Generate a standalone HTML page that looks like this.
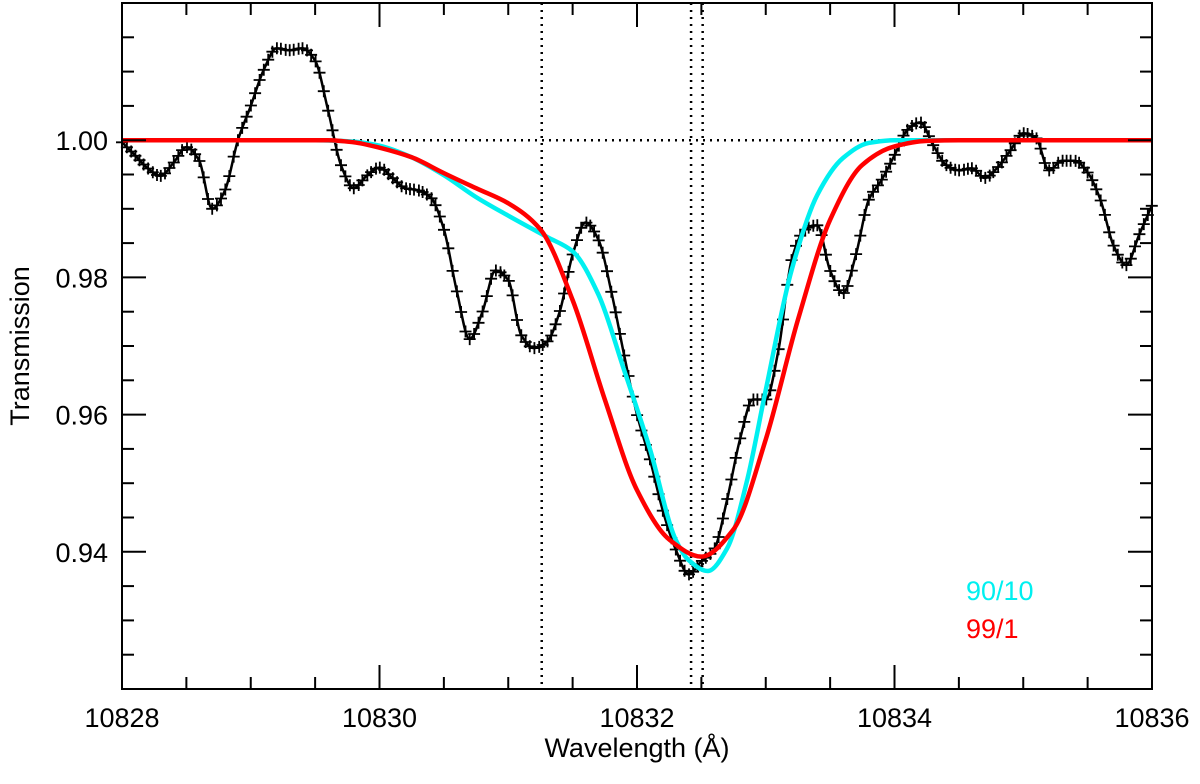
<!DOCTYPE html>
<html><head><meta charset="utf-8"><style>
html,body{margin:0;padding:0;background:#fff;}
svg text{font-family:"Liberation Sans",sans-serif;}
</style></head><body>
<svg id="chart" width="1200" height="779" xmlns="http://www.w3.org/2000/svg">
<g id="plot"></g>
</svg>
<script>
const xTicks = [10828, 10830, 10832, 10834, 10836];
const yTicks = [0.94, 0.96, 0.98, 1.00];
const yTickLabels = ["0.94", "0.96", "0.98", "1.00"];
const vLines = [10831.26, 10832.42, 10832.51];
const obsStart = 10828.0;
const obsStep = 0.1;
const obsValues = [0.9997,0.9978,0.9959,0.9948,0.9967,0.999,0.997,0.990,0.9927,1.000,
1.005,1.0102,1.0134,1.0131,1.0134,1.0116,1.0044,0.9964,0.993,0.9948,
0.996,0.9945,0.993,0.9927,0.9916,0.987,0.978,0.971,0.975,0.981,
0.9796,0.9716,0.9697,0.9706,0.975,0.9833,0.988,0.9855,0.978,0.9687,
0.960,0.9535,0.946,0.9404,0.9367,0.9386,0.9404,0.9476,0.9564,0.9622,
0.9622,0.9695,0.9825,0.9869,0.9876,0.981,0.9777,0.9833,0.9913,0.9942,
0.9978,1.0015,1.0026,0.9993,0.9964,0.9956,0.9959,0.9945,0.996,0.9985,
1.001,1.0003,0.9956,0.997,0.997,0.9953,0.9913,0.9847,0.9818,0.9862,0.9905];
const cyanX = [10828,10829.5,10829.8,10830.0,10830.25,10830.5,10830.75,10831.0,10831.3,10831.5,10831.7,10831.9,10832.1,10832.3,10832.4,10832.55,10832.7,10832.85,10833.0,10833.2,10833.4,10833.6,10833.8,10834.0,10836];
const cyanY = [1,1,0.9998,0.9992,0.9975,0.9949,0.9917,0.989,0.9859,0.9838,0.9775,0.9665,0.955,0.9418,0.9388,0.9372,0.9405,0.950,0.9636,0.981,0.992,0.9974,0.9996,1,1];
const redX = [10828,10829.6,10829.8,10830.0,10830.25,10830.5,10830.75,10831.0,10831.25,10831.5,10831.75,10832.0,10832.25,10832.5,10832.75,10833.0,10833.25,10833.5,10833.75,10834.0,10834.25,10834.5,10836];
const redY = [1,1,0.9997,0.9989,0.9975,0.9952,0.993,0.9908,0.987,0.9767,0.9622,0.949,0.9418,0.9393,0.9433,0.9564,0.9738,0.9884,0.9964,0.9991,0.9999,1,1];

const L=122,R=1152,T=3,B=689,X0=10828,X1=10836,Y0=0.92,Y1=1.02;
const sx=v=>L+(v-X0)/(X1-X0)*(R-L);
const sy=v=>B-(v-Y0)/(Y1-Y0)*(B-T);
const NS="http://www.w3.org/2000/svg";
const g=document.getElementById('plot');
function mk(tag,attrs,parent){const e=document.createElementNS(NS,tag);for(const k in attrs)e.setAttribute(k,attrs[k]);(parent||g).appendChild(e);return e;}
function smooth(pts){const n=pts.length;const dx=[],m=[],t=new Array(n);
for(let i=0;i<n-1;i++){dx.push(pts[i+1][0]-pts[i][0]);m.push((pts[i+1][1]-pts[i][1])/dx[i]);}
t[0]=m[0];t[n-1]=m[n-2];
for(let i=1;i<n-1;i++){if(m[i-1]*m[i]<=0)t[i]=0;else{const w1=2*dx[i]+dx[i-1],w2=dx[i]+2*dx[i-1];t[i]=(w1+w2)/(w1/m[i-1]+w2/m[i]);}}
let d="M"+pts[0][0].toFixed(1)+","+pts[0][1].toFixed(1);
for(let i=0;i<n-1;i++){const h=dx[i]/3;d+=" C"+(pts[i][0]+h).toFixed(1)+","+(pts[i][1]+t[i]*h).toFixed(1)+" "+(pts[i+1][0]-h).toFixed(1)+","+(pts[i+1][1]-t[i+1]*h).toFixed(1)+" "+pts[i+1][0].toFixed(1)+","+pts[i+1][1].toFixed(1);}
return d;}

let e=mk('line',{x1:L,x2:R,y1:sy(1),y2:sy(1),stroke:'#000','stroke-width':2.5,'stroke-dasharray':'2,5'});


vLines.forEach(v=>{const l=mk('line',{x1:sx(v),x2:sx(v),y1:T,y2:B,stroke:'#000','stroke-width':2.5,'stroke-dasharray':'2,5'});

});

const obsPts=obsValues.map((v,i)=>[sx(obsStart+i*obsStep),sy(v)]);
const obsPath=mk('path',{d:smooth(obsPts),fill:'none',stroke:'#000','stroke-width':2.5});


const totalLen=obsPath.getTotalLength();const samples=[];for(let s=0;s<=totalLen;s+=1)samples.push(obsPath.getPointAtLength(s));
let mpath="";let si=0;
for(let x=L;x<=R+0.1;x+=(R-L)/240){while(si<samples.length-1&&samples[si].x<x)si++;const p=samples[si];mpath+=`M${(p.x-6).toFixed(1)},${p.y.toFixed(1)}h12M${p.x.toFixed(1)},${(p.y-6).toFixed(1)}v12`;}
e=mk('path',{d:mpath,stroke:'#000','stroke-width':1.8,fill:'none'});



e=mk('path',{d:smooth(cyanX.map((x,i)=>[sx(x),sy(cyanY[i])])),fill:'none',stroke:'#00f0f0','stroke-width':4.5});


e=mk('path',{d:smooth(redX.map((x,i)=>[sx(x),sy(redY[i])])),fill:'none',stroke:'#f00','stroke-width':4.5});



e=mk('rect',{x:L,y:T,width:R-L,height:B-T,fill:'none',stroke:'#000','stroke-width':2});


for(let v=X0;v<=X1+1e-9;v+=0.5){const major=Math.abs(v-Math.round(v/2)*2)<1e-6;const len=major?24:12;const x=sx(v);
const t1=mk('line',{x1:x,x2:x,y1:B,y2:B-len,stroke:'#000','stroke-width':2});


const t2=mk('line',{x1:x,x2:x,y1:T,y2:T+len,stroke:'#000','stroke-width':2});

}
xTicks.forEach(v=>{const t=mk('text',{x:sx(v),y:727,'text-anchor':'middle','font-size':27});t.textContent=String(v);

});
for(let k=0;k<=20;k++){const v=Y0+k*0.005;if(v>Y1+1e-9)break;const major=yTicks.some(t=>Math.abs(t-v)<1e-6);const len=major?24:12;const y=sy(v);
const t1=mk('line',{x1:L,x2:L+len,y1:y,y2:y,stroke:'#000','stroke-width':2});


const t2=mk('line',{x1:R,x2:R-len,y1:y,y2:y,stroke:'#000','stroke-width':2});

}
yTicks.forEach((v,i)=>{const t=mk('text',{x:108,y:sy(v)+10,'text-anchor':'end','font-size':27});t.textContent=yTickLabels[i];

});
e=mk('text',{x:637,y:757,'text-anchor':'middle','font-size':27});e.textContent='Wavelength (Å)';


e=mk('text',{x:0,y:0,'text-anchor':'middle','font-size':27,transform:'translate(29,346) rotate(-90)'});e.textContent='Transmission';


e=mk('text',{x:966,y:600,'font-size':27,fill:'#00f0f0'});e.textContent='90/10';


e=mk('text',{x:966,y:638,'font-size':27,fill:'#f00'});e.textContent='99/1';


</script>
</body></html>
